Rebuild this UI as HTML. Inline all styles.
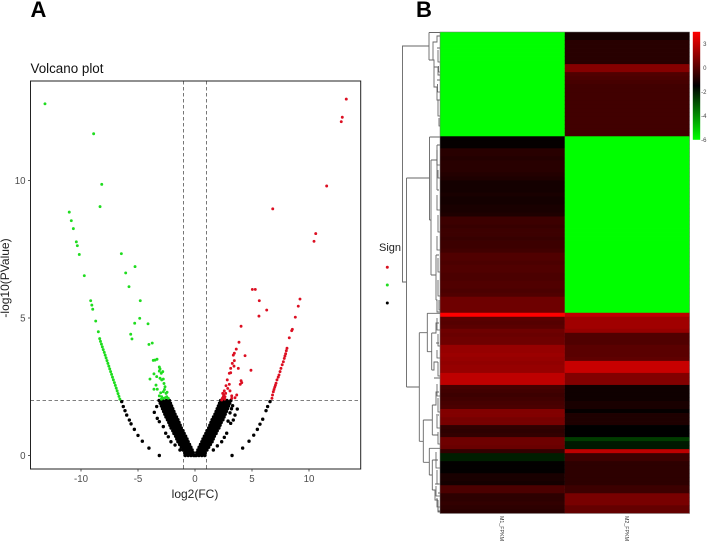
<!DOCTYPE html>
<html lang="en">
<head>
<meta charset="utf-8">
<title>Volcano plot and heatmap</title>
<style>
html,body{margin:0;padding:0;background:#fff;}
svg{display:block;font-family:"Liberation Sans",sans-serif;}
</style>
</head>
<body>
<svg id="fig" xmlns="http://www.w3.org/2000/svg" width="708" height="543" viewBox="0 0 708 543">
  <rect x="0" y="0" width="708" height="543" fill="#fff"/>
  <text x="30.5" y="17" font-size="22" font-weight="bold" fill="#000">A</text>
  <text x="416" y="17" font-size="22" font-weight="bold" fill="#000">B</text>
  <text x="30.5" y="73" font-size="13.4" fill="#111">Volcano plot</text>
  <g id="volcano"></g>
  <text transform="translate(9,278) rotate(-90)" text-anchor="middle" font-size="12" fill="#222">-log10(PValue)</text>
  <text x="195" y="498" text-anchor="middle" font-size="12" fill="#222">log2(FC)</text>
  <g>
    <text x="379" y="251" font-size="11" fill="#222">Sign</text>
    <circle cx="387.3" cy="267.3" r="1.5" fill="#d8101f"/>
    <circle cx="387.3" cy="285" r="1.5" fill="#22dd22"/>
    <circle cx="387.3" cy="303" r="1.5" fill="#000"/>
  </g>
  <path fill="none" stroke="#666" stroke-width="0.9" d="
    M429 46H402.5V282H406.5
    M406.5 178V387
    M406.5 178H429.5
    M429 32.5V60
    M440 32.5H429
    M429 60H433V42H436.5
    M433 42H437V36H440
    M437 48H440
    M433 60H434V87H437
    M434 67H438V75H440
    M437 87V100H440
    M437 80H440
    M429.5 137V220
    M429.5 137H440
    M429.5 220H431
    M431 160V275
    M431 160H437
    M437 145V190
    M437 145H440
    M437 190H439
    M431 275H436
    M436 255V300
    M436 255H439
    M436 300H437V312H440
    M406.5 387H419.3
    M419.3 332.7V441.3
    M419.3 332.7H427.3
    M427.3 313.3V351.7
    M427.3 313.3H440
    M427.3 351.7H431.7
    M431.7 333V370
    M431.7 333H436V323H439
    M436 343H439
    M431.7 370H434V362H438
    M434 378H440
    M419.3 441.3H423.3
    M423.3 420V462.3
    M423.3 420H432.3
    M432.3 405V435
    M432.3 405H436V392H439
    M436 415H439
    M432.3 435H438
    M423.3 462.3H429.3
    M429.3 448.3V475
    M429.3 448.3H440
    M429.3 475H432.3
    M432.3 460V490
    M432.3 460H438
    M432.3 490H435V500H438
    M435 484H439
    M438 493H440
    M438 500V511H440"/>
  <path fill="none" stroke="#555" stroke-width="0.8" d="
    M438 50V62H440M438.5 66V72H440M437.5 84V92H440M438 100V116H440M439 118V126H440
    M437 150V165H440M438 170V178H440M437 195V210H440M438 215V232H440M437 236V250H440M438 258V272H440M438 280V296H440M439 300V310H440
    M437 318V330H440M438 334V346H440M437 350V358H440M438 362V376H440
    M437 384V396H440M438 398V412H440M437 416V428H440M438 432V444H440
    M436 452V468H440M437 470V484H440M436 486V496H440M437 498V507H440M438 508V512H440"/>
  <g id="heatmap"></g>
  <rect x="440" y="32" width="249.5" height="481.3" fill="none" stroke="#777" stroke-width="0.5"/>
  <text transform="translate(500,516) rotate(90)" font-size="5.3" fill="#333">M1_FPKM</text>
  <text transform="translate(625,516) rotate(90)" font-size="5.3" fill="#333">M2_FPKM</text>
  <defs>
    <linearGradient id="cbGrad" x1="0" y1="0" x2="0" y2="1">
      <stop offset="0" stop-color="#ff0000"/>
      <stop offset="0.5" stop-color="#000000"/>
      <stop offset="1" stop-color="#00ff00"/>
    </linearGradient>
  </defs>
  <rect x="692.8" y="31.8" width="7.4" height="108" fill="url(#cbGrad)"/>
  <g id="cbTicks"></g>
</svg>
<script>
/* ---------- volcano data ---------- */
const xTicks = [-10, -5, 0, 5, 10];
const yTicks = [0, 5, 10];
const fcCutoffs = [-1, 1];
const pCutoffs = [2];

const blackFC = [
-3.15,-2.8,-2.5,-2.25,-3.05,-2.7,-2.4,-2.15,-2.95,-2.6,-2.3,-2.05,-2.85,-2.5,-2.2,-1.95,-2.75,-2.42,-2.12,-1.85,
-2.65,-2.32,-2.02,-1.75,-2.55,-2.22,-1.92,-1.62,-2.42,-2.1,-1.8,-1.5,-2.3,-2.0,-1.7,-1.4,-2.2,-1.9,-1.6,-1.3,
-2.1,-1.8,-1.5,-1.2,-1.95,-1.65,-1.35,-1.05,-1.85,-1.55,-1.25,-0.95,-1.7,-1.4,-1.1,-0.82,-1.6,-1.3,-1.0,-0.7,
-1.5,-1.2,-0.9,-0.6,-1.35,-1.05,-0.75,-0.48,-1.2,-0.9,-0.6,-0.36,-1.05,-0.75,-0.45,-0.25,-0.9,-0.6,-0.35,-0.15,
-0.85,-0.6,-0.35,-0.12,0,
0.12,0.35,0.6,0.85,0.15,0.35,0.6,0.9,0.25,0.45,0.75,1.05,0.36,0.6,0.9,1.2,0.48,0.75,1.05,1.35,
0.6,0.9,1.2,1.5,0.7,1.0,1.3,1.6,0.82,1.1,1.4,1.7,0.95,1.25,1.55,1.85,1.05,1.35,1.65,1.95,
1.2,1.5,1.8,2.1,1.3,1.6,1.9,2.2,1.4,1.7,2.0,2.3,1.5,1.8,2.1,2.45,1.62,1.92,2.22,2.55,
1.75,2.02,2.32,2.65,1.85,2.12,2.42,2.75,1.95,2.2,2.5,2.85,2.05,2.3,2.6,2.95,2.15,2.4,2.7,3.05,
2.25,2.5,2.8,3.15,
-2.92,-2.6,-2.32,-2.82,-2.5,-2.22,-2.72,-2.4,-2.12,-2.62,-2.31,-2.03,-2.53,-2.22,-1.93,-2.43,-2.12,-1.82,-2.32,-2.01,-1.71,
-2.2,-1.9,-1.6,-2.1,-1.8,-1.5,-2.0,-1.7,-1.4,-1.87,-1.57,-1.27,-1.75,-1.45,-1.15,-1.63,-1.33,-1.03,-1.5,-1.2,-0.9,
-1.4,-1.1,-0.8,-1.27,-0.97,-0.68,-1.13,-0.83,-0.55,-0.97,-0.67,-0.42,-0.83,-0.53,-0.3,-0.73,-0.47,-0.24,
0.24,0.47,0.73,0.3,0.53,0.83,0.42,0.67,0.97,0.55,0.83,1.13,0.68,0.97,1.27,0.8,1.1,1.4,
0.9,1.2,1.5,1.03,1.33,1.63,1.15,1.45,1.75,1.27,1.57,1.87,1.4,1.7,2.0,1.5,1.8,2.1,1.6,1.9,2.2,
1.71,2.01,2.32,1.82,2.12,2.43,1.93,2.22,2.53,2.03,2.31,2.62,2.12,2.4,2.72,2.22,2.5,2.82,2.32,2.6,2.92,
-6.43,-6.29,-6.14,-5.99,-5.76,-5.61,-5.32,-5.0,-4.62,-4.04,-3.13,
6.58,6.37,6.23,5.94,5.7,5.47,5.15,4.74,4.18,3.25,
-3.57,-3.31,-3.13,-2.78,-2.57,-2.34,-2.11,-1.75,-1.32,-3.36,
3.71,3.51,3.36,3.13,2.78,2.57,2.34,1.96,1.61,3.2,3.07,3.3,2.9
];
const blackP = [
2,2,2,2,1.9,1.9,1.9,1.9,1.8,1.8,1.8,1.8,1.7,1.7,1.7,1.7,1.6,1.6,1.6,1.6,
1.5,1.5,1.5,1.5,1.4,1.4,1.4,1.4,1.3,1.3,1.3,1.3,1.2,1.2,1.2,1.2,1.1,1.1,1.1,1.1,
1,1,1,1,0.9,0.9,0.9,0.9,0.8,0.8,0.8,0.8,0.7,0.7,0.7,0.7,0.6,0.6,0.6,0.6,
0.5,0.5,0.5,0.5,0.4,0.4,0.4,0.4,0.3,0.3,0.3,0.3,0.2,0.2,0.2,0.2,0.1,0.1,0.1,0.1,
0,0,0,0,0,
0,0,0,0,0.1,0.1,0.1,0.1,0.2,0.2,0.2,0.2,0.3,0.3,0.3,0.3,0.4,0.4,0.4,0.4,
0.5,0.5,0.5,0.5,0.6,0.6,0.6,0.6,0.7,0.7,0.7,0.7,0.8,0.8,0.8,0.8,0.9,0.9,0.9,0.9,
1,1,1,1,1.1,1.1,1.1,1.1,1.2,1.2,1.2,1.2,1.3,1.3,1.3,1.3,1.4,1.4,1.4,1.4,
1.5,1.5,1.5,1.5,1.6,1.6,1.6,1.6,1.7,1.7,1.7,1.7,1.8,1.8,1.8,1.8,1.9,1.9,1.9,1.9,
2,2,2,2,
1.95,1.95,1.95,1.85,1.85,1.85,1.75,1.75,1.75,1.65,1.65,1.65,1.55,1.55,1.55,1.45,1.45,1.45,1.35,1.35,1.35,
1.25,1.25,1.25,1.15,1.15,1.15,1.05,1.05,1.05,0.95,0.95,0.95,0.85,0.85,0.85,0.75,0.75,0.75,0.65,0.65,0.65,
0.55,0.55,0.55,0.45,0.45,0.45,0.35,0.35,0.35,0.25,0.25,0.25,0.15,0.15,0.15,0.05,0.05,0.05,
0.05,0.05,0.05,0.15,0.15,0.15,0.25,0.25,0.25,0.35,0.35,0.35,0.45,0.45,0.45,0.55,0.55,0.55,
0.65,0.65,0.65,0.75,0.75,0.75,0.85,0.85,0.85,0.95,0.95,0.95,1.05,1.05,1.05,1.15,1.15,1.15,1.25,1.25,1.25,
1.35,1.35,1.35,1.45,1.45,1.45,1.55,1.55,1.55,1.65,1.65,1.65,1.75,1.75,1.75,1.85,1.85,1.85,1.95,1.95,1.95,
1.96,1.78,1.63,1.47,1.29,1.15,0.95,0.73,0.52,0.27,0,
1.96,1.78,1.63,1.32,1.14,0.95,0.74,0.52,0.27,0,
1.57,1.35,1.23,1.05,0.81,0.68,0.5,0.38,0.2,1.78,
1.69,1.47,1.29,1.17,0.81,0.66,0.5,0.35,0.2,1.7,1.55,1.81,1.25
];
const greenFC = [
-6.59,-6.67,-6.75,-6.83,-6.91,-6.99,-7.07,-7.16,-7.24,-7.32,-7.40,-7.48,-7.56,-7.64,-7.72,-7.80,-7.88,-7.96,-8.05,-8.13,-8.21,-8.29,-8.36,
-8.48,-8.71,-8.97,-9.05,-9.15,-9.71,-10.15,-10.32,-10.41,-10.67,-10.85,-11.03,
-13.16,-8.89,-8.18,-8.33,
-6.46,-6.08,-5.26,-5.79,-4.8,-4.85,-5.29,-4.12,-5.64,-5.53,-4.04,-3.75,-3.66,-3.51,-3.33,-3.13,-3.07,-3.13,-3.6,-2.96,-2.83,-3.95,
-3.36,-3.07,-2.78,-2.92,-2.72,-3.6,-3.31,-3.42,-2.63,-3.01,-2.78,-2.54,-3.13,-2.92,-2.48,-2.34,-2.78,-2.6,-2.95,-2.45,-2.68
];
const greenP = [
2.05,2.15,2.25,2.35,2.45,2.55,2.65,2.75,2.85,2.95,3.05,3.15,3.25,3.35,3.45,3.55,3.65,3.75,3.85,3.95,4.05,4.15,4.25,
4.5,4.89,5.32,5.47,5.63,6.54,7.31,7.63,7.77,8.25,8.54,8.85,
12.79,11.7,9.86,9.05,
7.34,6.64,6.87,6.14,5.63,4.99,4.81,4.79,4.41,4.24,4.04,4.09,3.46,3.47,3.5,3.22,3.15,3.07,2.97,2.99,3.05,2.78,
2.87,2.81,2.78,2.75,2.62,2.41,2.41,2.56,2.5,2.28,2.32,2.26,2.17,2.14,2.14,2.08,2.08,2.1,2.05,2.3,2.4
];
const redFC = [
13.27,12.92,12.83,11.55,6.82,10.59,10.44,5.03,5.29,5.64,6.29,5.61,9.21,9.06,8.8,8.54,8.48,8.27,8.07,8.01,7.89,7.83,7.75,7.54,7.46,7.37,7.19,7.11,6.99,6.87,6.75,
7.95,7.65,7.3,7.05,6.93,6.8,
4.04,3.86,3.62,3.45,3.36,4.39,3.45,3.27,3.42,3.8,4.91,3.13,3.01,3.13,2.83,4.04,4.1,3.97,
3.01,2.72,2.87,3.07,2.57,2.43,2.69,3.22,3.66,3.51,3.22,2.48,2.34,2.63,2.4,2.52,2.6
];
const redP = [
12.96,12.3,12.14,9.8,8.97,8.07,7.79,6.04,6.04,5.63,5.29,5.07,5.69,5.43,5.03,4.59,4.54,4.28,3.9,3.81,3.62,3.53,3.41,3.17,3.05,2.93,2.75,2.63,2.48,2.32,2.08,
3.7,3.3,2.85,2.55,2.4,2.2,
4.7,4.12,3.87,3.72,3.65,3.63,3.45,3.35,3.25,3.17,3.1,3.17,2.99,3.01,2.75,2.72,2.65,2.59,
2.59,2.54,2.44,2.35,2.35,2.26,2.26,2.17,2.2,2.1,2.08,2.14,2.02,2.14,2.08,2.2,2.05
];

/* ---------- heatmap data ---------- */
const heatColumns = ["M1_FPKM", "M2_FPKM"];
const m1Values = [
-6,-6,-6,-6,-6,-6,-6,-6,-6,-6,-6,-6,-6,-6,-6,-6,-6,-6,-6,-6,-6,-6,-6,-6,-6,-6,
-1.41,-1.41,-1.41,
-0.79,-0.79,-0.88,-0.79,-0.79,-0.79,-0.88,-0.97,
-1.15,-1.15,-1.15,-1.06,-1.15,-1.15,-1.06,-1.06,-0.97,
-0.44,-0.44,-0.53,-0.44,-0.44,-0.53,-0.44,-0.44,-0.35,
-0.09,-0.09,-0.18,-0.09,-0.09,-0.18,-0.18,-0.09,-0.09,-0.18,-0.09,
0.44,0.44,0.44,0.44,
3,
0.09,0,0.09,
0.44,0.35,0.44,0.44,
1.15,1.15,1.24,1.15,1.06,1.15,1.15,
1.85,1.85,1.85,
-0.26,-0.35,-0.44,-0.35,-0.26,-0.18,
0.79,0.79,
0.62,0.62,
-0.62,-0.7,-0.62,
0.44,0.44,0.35,
-0.62,
-2.03,-2.03,
-1.45,-1.45,-1.45,
-1.06,-1.06,-1.15,
-0.18,-0.18,
-0.71,-0.71,-0.62,-0.71,-0.8
];
const m2Values = [
-1.15,-1.15,
-0.79,-0.79,-0.79,-0.79,-0.79,-0.79,
0.85,0.85,
-0.09,-0.18,-0.26,
-0.35,-0.35,-0.35,-0.35,-0.35,-0.35,-0.35,-0.35,-0.35,-0.35,-0.35,-0.35,-0.35,
-6,-6,-6,-6,-6,-6,-6,-6,-6,-6,-6,-6,-6,-6,-6,-6,-6,-6,-6,-6,-6,-6,
-6,-6,-6,-6,-6,-6,-6,-6,-6,-6,-6,-6,-6,-6,-6,-6,-6,-6,-6,-6,-6,-6,
1.85,
1.32,1.32,1.32,1.15,
-0.09,-0.09,-0.09,
0.09,0.09,0.09,0.18,
2.03,2.03,2.03,
0.79,0.79,0.79,
-1.24,-1.24,-1.24,-1.24,
-1.06,-1.06,
-1.41,
-0.97,-0.97,-0.97,
-1.5,-1.5,-1.5,
-2.56,
-1.94,-1.94,
1.85,
-0.44,-0.44,
-0.71,-0.71,-0.71,-0.71,-0.71,-0.71,
-0.44,-0.44,
0.62,0.62,0.62,
0.26,0.26
];
const colorbarTicks = [2, 0, -2, -4, -6];
const colorbarLabels = ["3", "0", "-2", "-4", "-6"];

/* ---------- drawing ---------- */
const NS = "http://www.w3.org/2000/svg";
function mk(tag, attrs, parent) {
  const el = document.createElementNS(NS, tag);
  for (const k in attrs) el.setAttribute(k, attrs[k]);
  parent.appendChild(el);
  return el;
}
const plot = {left: 30.5, right: 360.7, top: 81, bottom: 469};
const xScale = v => 195 + v * 11.4;
const yScale = v => 455.5 - v * 27.5;

const volcano = document.getElementById("volcano");

pCutoffs.forEach(v => {
  const el = mk("line", {x1: plot.left, x2: plot.right, y1: yScale(v), y2: yScale(v), stroke: "#555", "stroke-width": 0.8, "stroke-dasharray": "3.5 2.5"}, volcano);
  
  
});
fcCutoffs.forEach(v => {
  const el = mk("line", {x1: xScale(v), x2: xScale(v), y1: plot.top, y2: plot.bottom, stroke: "#555", "stroke-width": 0.8, "stroke-dasharray": "3.5 2.5"}, volcano);
  
  
});

function drawSeries(fc, p, color, r) {
  fc.forEach((v, i) => {
    const c = mk("circle", {cx: xScale(v).toFixed(2), cy: yScale(p[i]).toFixed(2), r: r, fill: color}, volcano);
    
    
  });
}
drawSeries(blackFC, blackP, "#000", 1.7);
drawSeries(greenFC, greenP, "#1fdc1f", 1.45);
drawSeries(redFC, redP, "#dc0f22", 1.45);

const frame = mk("rect", {x: plot.left, y: plot.top, width: plot.right - plot.left, height: plot.bottom - plot.top, fill: "none", stroke: "#222", "stroke-width": 1}, volcano);



xTicks.forEach(v => {
  const t = mk("line", {x1: xScale(v), x2: xScale(v), y1: plot.bottom, y2: plot.bottom + 2.5, stroke: "#333", "stroke-width": 0.8}, volcano);
  
  
  const l = mk("text", {x: xScale(v), y: plot.bottom + 13, "text-anchor": "middle", "font-size": 9.7, fill: "#4d4d4d"}, volcano);
  
  
  l.textContent = v;
});
yTicks.forEach(v => {
  const t = mk("line", {x1: plot.left - 2.5, x2: plot.left, y1: yScale(v), y2: yScale(v), stroke: "#333", "stroke-width": 0.8}, volcano);
  
  
  const l = mk("text", {x: plot.left - 5, y: yScale(v) + 3.4, "text-anchor": "end", "font-size": 9.7, fill: "#4d4d4d"}, volcano);
  
  
  l.textContent = v;
});

/* heatmap */
const heatmap = document.getElementById("heatmap");
const heat = {left: 440, colW: 124.75, top: 32, rowH: 481.3 / m1Values.length};
function heatColor(v) {
  const t = (v + 1.5) / 4.5;
  const a = Math.min(255, Math.round(Math.abs(t) * 255));
  return t >= 0 ? "rgb(" + a + ",0,0)" : "rgb(0," + a + ",0)";
}
[m1Values, m2Values].forEach((vals, c) => {
  vals.forEach((v, i) => {
    const cell = mk("rect", {x: heat.left + c * heat.colW, y: (heat.top + i * heat.rowH).toFixed(2), width: heat.colW + 0.2, height: (heat.rowH + 0.4).toFixed(2), fill: heatColor(v)}, heatmap);
    
    
  });
});

/* colorbar ticks */
const cbTicks = document.getElementById("cbTicks");
const cbScale = v => 68 - v * 12;
colorbarTicks.forEach((v, i) => {
  const l = mk("text", {x: 706.5, y: cbScale(v) + 2.1, "text-anchor": "end", "font-size": 6, fill: "#444"}, cbTicks);
  
  
  l.textContent = colorbarLabels[i];
});
</script>
</body>
</html>
